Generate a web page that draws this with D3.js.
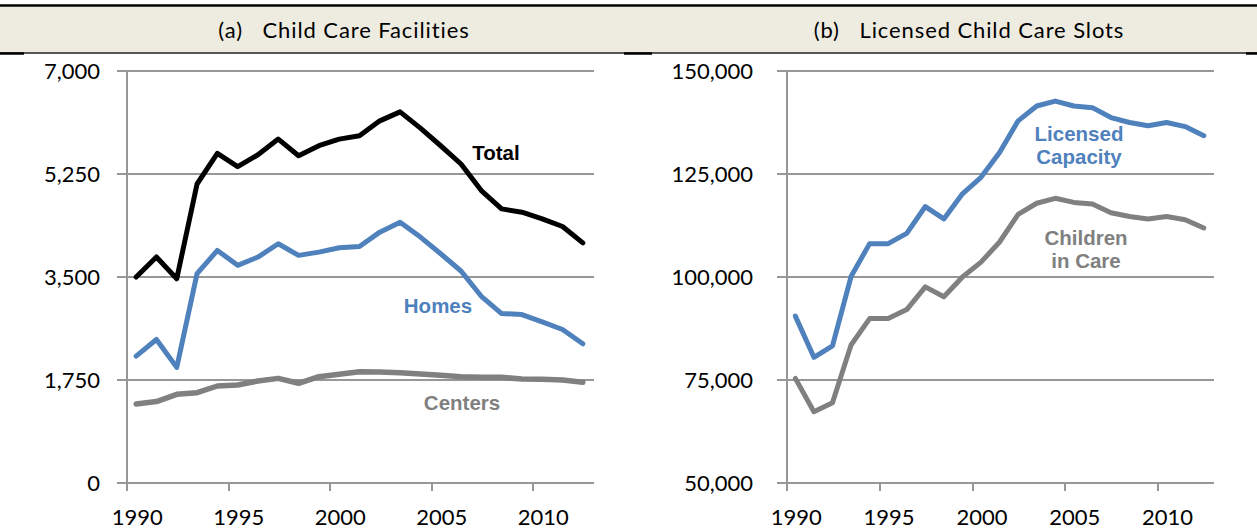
<!DOCTYPE html>
<head>
	<meta charset="UTF-8">
	<title>Child Care Facilities and Licensed Slots</title>
	<script src="https://d3js.org/d3.v7.min.js"></script>
	<style>
		body { margin: 0; background: #fff; }
		.chart { font-family: Lato, "Open Sans", sans-serif; display: block; }
		.grid line { stroke: #979797; stroke-width: 2; shape-rendering: crispEdges; }
		.series { fill: none; stroke-linejoin: round; stroke-linecap: round; }
		.tick-label { font-size: 22px; fill: #000; }
		.panel-title { font-size: 22px; letter-spacing: 0.9px; white-space: pre; }
		.series-label { font-family: "Liberation Sans", Arial, sans-serif; font-weight: bold; font-size: 20.5px; }
	</style>
</head>

<body>
	<svg class="chart" width="1257" height="531"></svg>
	<script>
		// ---------------------------------------------------------------
		// Data
		// ---------------------------------------------------------------
		var years = [1990, 1991, 1992, 1993, 1994, 1995, 1996, 1997, 1998, 1999, 2000,
			2001, 2002, 2003, 2004, 2005, 2006, 2007, 2008, 2009, 2010, 2011, 2012];

		var totalFacilities = [3500, 3840, 3470, 5080, 5600, 5375, 5577, 5843, 5560, 5730, 5843,
			5900, 6153, 6306, 6030, 5730, 5420, 4968, 4657, 4601, 4488, 4358, 4080];
		var homes = [2156, 2439, 1964, 3557, 3952, 3698, 3839, 4065, 3867, 3923, 3997,
			4019, 4262, 4431, 4178, 3895, 3602, 3172, 2879, 2862, 2738, 2608, 2365];
		var centers = [1344, 1383, 1507, 1535, 1648, 1665, 1733, 1778, 1694, 1806, 1846,
			1891, 1885, 1874, 1852, 1829, 1806, 1795, 1795, 1767, 1761, 1750, 1710];

		var licensedCapacity = [90500, 80500, 83300, 100100, 108100, 108100, 110600, 117100, 114100, 120200, 124200,
			130200, 137900, 141500, 142700, 141500, 141100, 138700, 137500, 136700, 137500, 136500, 134300];
		var childrenInCare = [75400, 67300, 69500, 83500, 89900, 89900, 92100, 97600, 95200, 100000, 103600,
			108500, 115200, 117900, 119100, 118100, 117700, 115600, 114700, 114100, 114700, 113900, 111900];

		var yearTicks = [1990, 1995, 2000, 2005, 2010];
		var facilityTicks = [0, 1750, 3500, 5250, 7000];
		var slotTicks = [50000, 75000, 100000, 125000, 150000];

		var chart = d3.select(".chart");

		//==================================================================
		// Header band
		//==================================================================
		// figure caption sits above the crop, only its descenders show
		chart.append("text")
			.attr("x", -30).attr("y", -4)
			.attr("fill", "#2e6cb5")
			.attr("font-weight", "bold").attr("font-style", "italic")
			.attr("font-size", 20)
			.style("white-space", "pre")
			.text("Figure 2.  Family Child Care Homes, Centers and Licensed Capacity (1990-2012)");

		chart.append("rect")
			.attr("x", 0).attr("y", 7).attr("width", 1257).attr("height", 46)
			.attr("fill", "#eeece1");
		chart.append("line")
			.attr("x1", 0).attr("x2", 1257).attr("y1", 5.5).attr("y2", 5.5)
			.attr("stroke", "#000").attr("stroke-width", 2.5);
		chart.append("line")
			.attr("x1", 0).attr("x2", 1257).attr("y1", 53).attr("y2", 53)
			.attr("stroke", "#222").attr("stroke-width", 1.3);
		[[0, 24], [624, 652], [1246, 1257]].forEach(function (s) {
			chart.append("line")
				.attr("x1", s[0]).attr("x2", s[1]).attr("y1", 53.5).attr("y2", 53.5)
				.attr("stroke", "#000").attr("stroke-width", 2.5);
		});

		//==================================================================
		// Panels
		//==================================================================
		var panels = [
			{
				title: "(a)   Child Care Facilities", titleX: 344,
				left: 127, right: 594, domain: [0, 7000], ticks: facilityTicks, labelX: 100,
				series: [
					{ values: centers, color: "#808080", width: 5.5 },
					{ values: homes, color: "#4f81bd", width: 5 },
					{ values: totalFacilities, color: "#000000", width: 5 }
				],
				labels: [
					{ lines: ["Total"], x: 496, y: 160, color: "#000000" },
					{ lines: ["Homes"], x: 438, y: 313, color: "#4f81bd" },
					{ lines: ["Centers"], x: 462, y: 410, color: "#808080" }
				]
			},
			{
				title: "(b)   Licensed Child Care Slots", titleX: 969,
				left: 787, right: 1214, domain: [50000, 150000], ticks: slotTicks, labelX: 753,
				series: [
					{ values: childrenInCare, color: "#808080", width: 5 },
					{ values: licensedCapacity, color: "#4f81bd", width: 5 }
				],
				labels: [
					{ lines: ["Licensed", "Capacity"], x: 1079, y: 141, color: "#4f81bd" },
					{ lines: ["Children", "in Care"], x: 1086, y: 245, color: "#808080" }
				]
			}
		];

		var plotTop = 71, plotBottom = 483;

		panels.forEach(function (p) {
			var x = d3.scaleLinear().domain([1990, 2013]).range([p.left, p.right]);
			var y = d3.scaleLinear().domain(p.domain).range([plotBottom, plotTop]);

			// title
			chart.append("text")
				.attr("class", "panel-title")
				.attr("x", p.titleX).attr("y", 38)
				.attr("text-anchor", "middle")
				.text(p.title);

			// gridlines + left ticks
			var g = chart.append("g").attr("class", "grid");
			g.selectAll(".yt")
				.data(p.ticks)
				.enter().append("line")
				.attr("class", "yt")
				.attr("x1", p.left - 10).attr("x2", p.right)
				.attr("y1", function (d) { return Math.round(y(d)); })
				.attr("y2", function (d) { return Math.round(y(d)); });

			// y axis line
			g.append("line")
				.attr("x1", p.left).attr("x2", p.left)
				.attr("y1", plotTop).attr("y2", plotBottom + 8);

			// x ticks
			g.selectAll(".xt")
				.data(yearTicks)
				.enter().append("line")
				.attr("class", "xt")
				.attr("x1", function (d) { return Math.round(x(d)); })
				.attr("x2", function (d) { return Math.round(x(d)); })
				.attr("y1", plotBottom).attr("y2", plotBottom + 8);

			// y tick labels
			chart.append("g").selectAll("text")
				.data(p.ticks)
				.enter().append("text")
				.attr("class", "tick-label")
				.attr("x", p.labelX)
				.attr("y", function (d) { return y(d); })
				.attr("dy", "0.36em")
				.attr("text-anchor", "end")
				.text(d3.format(","));

			// x tick labels (centred in the year)
			chart.append("g").selectAll("text")
				.data(yearTicks)
				.enter().append("text")
				.attr("class", "tick-label")
				.attr("x", function (d) { return x(d + 0.5); })
				.attr("y", 525)
				.attr("text-anchor", "middle")
				.text(function (d) { return d; });

			// lines
			var line = d3.line()
				.x(function (d, i) { return x(years[i] + 0.45); })
				.y(function (d) { return y(d); });

			chart.append("g").selectAll("path")
				.data(p.series)
				.enter().append("path")
				.attr("class", "series")
				.attr("stroke", function (s) { return s.color; })
				.attr("stroke-width", function (s) { return s.width; })
				.attr("d", function (s) { return line(s.values); });

			// series labels
			p.labels.forEach(function (l) {
				var t = chart.append("text")
					.attr("class", "series-label")
					.attr("fill", l.color)
					.attr("text-anchor", "middle");
				l.lines.forEach(function (txt, i) {
					t.append("tspan")
						.attr("x", l.x)
						.attr("y", l.y + i * 23)
						.text(txt);
				});
			});
		});
	</script>
</body>
</html>
